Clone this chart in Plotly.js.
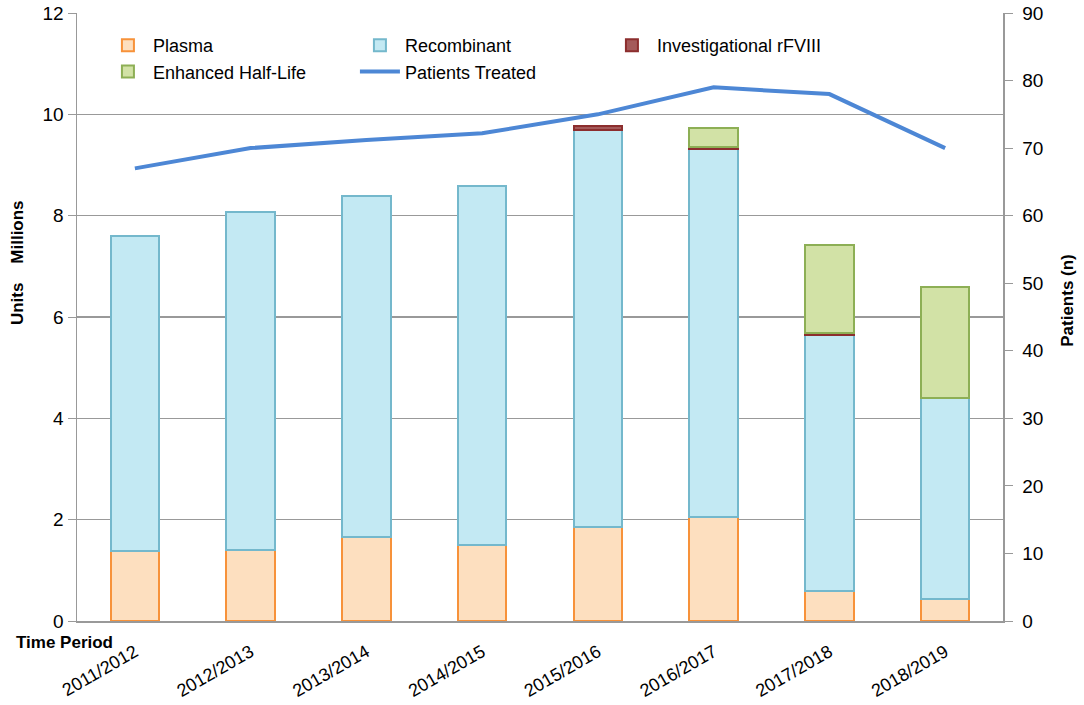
<!DOCTYPE html>
<html>
<head>
<meta charset="utf-8">
<script src="https://cdn.plot.ly/plotly-3.0.1.min.js"></script>
<style>html,body{margin:0;padding:0;background:#fff}#chart{width:1084px;height:705px}</style>
</head>
<body>
<div id="chart"></div>
<script>
const periods = ["2011/2012","2012/2013","2013/2014","2014/2015","2015/2016","2016/2017","2017/2018","2018/2019"];
const plasma = [1.38, 1.40, 1.66, 1.50, 1.85, 2.05, 0.59, 0.43];
const recombinant = [6.22, 6.67, 6.73, 7.08, 7.84, 7.26, 5.05, 3.97];
const investigational = [0, 0, 0, 0, 0.08, 0.05, 0.04, 0];
const enhancedHalfLife = [0, 0, 0, 0, 0, 0.38, 1.74, 2.19];
const patientsTreated = [67, 70, 71.2, 72.2, 75, 79, 78, 70];

const font = "Liberation Sans, Arial, sans-serif";
const barW = 0.42;
function barTrace(name, y, fill, edge) {
  return {type: "bar", name: name, x: periods, y: y.map(v => v === 0 ? null : v), width: barW,
    marker: {color: fill, line: {color: edge, width: 2}}, yaxis: "y"};
}
const traces = [
  barTrace("Plasma", plasma, "#FDDFBF", "#F7923A"),
  barTrace("Recombinant", recombinant, "#C3E9F3", "#74B8CC"),
  barTrace("Investigational rFVIII", investigational, "#A45A5A", "#8C2E2E"),
  barTrace("Enhanced Half-Life", enhancedHalfLife, "#D2E2A6", "#8DAF55"),
  {type: "scatter", mode: "lines", name: "Patients Treated", x: periods, y: patientsTreated,
   yaxis: "y2", line: {color: "#4D87D5", width: 4}}
];
const layout = {
  width: 1084, height: 705,
  margin: {l: 77, r: 81, t: 13, b: 84},
  paper_bgcolor: "#fff", plot_bgcolor: "#fff",
  barmode: "stack",
  font: {family: font, size: 18, color: "#000"},
  showlegend: true,
  legend: {orientation: "h", x: 0.028, y: 0.977, xanchor: "left", yanchor: "top",
    entrywidth: 197, entrywidthmode: "pixels", traceorder: "normal",
    font: {family: font, size: 18, color: "#000"}, bgcolor: "rgba(0,0,0,0)", itemwidth: 40,
    tracegroupgap: 0},
  xaxis: {type: "category", tickangle: -30, showgrid: false, showline: true,
    linecolor: "#999", linewidth: 1.5, ticks: "", tickfont: {family: font, size: 18},
    ticklabelstandoff: 12, zeroline: false},
  yaxis: {range: [0, 12], dtick: 2, showgrid: true, gridcolor: "#999", gridwidth: 1.5,
    showline: true, linecolor: "#999", linewidth: 1.5, ticks: "outside", ticklen: 8,
    tickcolor: "#999", tickfont: {family: font, size: 19}, zeroline: false},
  yaxis2: {range: [0, 90], dtick: 10, overlaying: "y", side: "right", showgrid: false,
    showline: true, linecolor: "#999", linewidth: 1.5, ticks: "outside", ticklen: 8,
    tickcolor: "#999", tickfont: {family: font, size: 19}, ticklabelstandoff: 6, zeroline: false},
  annotations: [
    {text: "<b>Units    Millions</b>", xref: "paper", yref: "paper", x: -0.065, y: 0.59,
     xanchor: "center", yanchor: "middle", textangle: -90, showarrow: false,
     font: {family: font, size: 17, color: "#000"}},
    {text: "<b>Patients (n)</b>", xref: "paper", yref: "paper", x: 1.07, y: 0.528,
     xanchor: "center", yanchor: "middle", textangle: -90, showarrow: false,
     font: {family: font, size: 17, color: "#000"}},
    {text: "<b>Time Period</b>", xref: "paper", yref: "paper", x: -0.068, y: -0.016,
     xanchor: "left", yanchor: "top", showarrow: false,
     font: {family: font, size: 17, color: "#000"}}
  ]
};
Plotly.newPlot("chart", traces, layout, {displayModeBar: false, staticPlot: true});
</script>
</body>
</html>
